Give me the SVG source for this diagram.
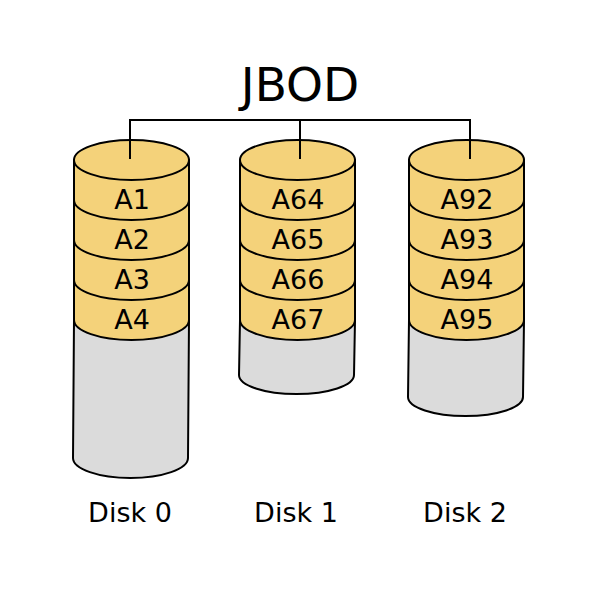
<svg xmlns="http://www.w3.org/2000/svg" width="600" height="600" viewBox="0 0 600 600">
<style>
.gray{fill:#dbdbdb;stroke:#000;stroke-width:2}
.yel{fill:#f4d27a;stroke:#000;stroke-width:2}
.arc{fill:none;stroke:#000;stroke-width:2}
.lbl{font-family:"DejaVu Sans",sans-serif;font-size:27px;text-anchor:middle;fill:#000}
.dlbl{font-family:"DejaVu Sans",sans-serif;font-size:27px;text-anchor:middle;fill:#000}
.title{font-family:"DejaVu Sans",sans-serif;font-size:47px;text-anchor:middle;fill:#000}
.conn{fill:none;stroke:#000;stroke-width:2}
</style>
<rect width="600" height="600" fill="#fff"/>
<g id="disk0">
<path class="gray" d="M74,320 L73,458 A57.5,20 0 0 0 188,458 L189,320 Z"/>
<path class="yel" d="M74,160 L74,320 A57.5,20 0 0 0 189,320 L189,160 Z"/>
<path class="arc" d="M74,200 A57.5,20 0 0 0 189,200 M74,240 A57.5,20 0 0 0 189,240 M74,280 A57.5,20 0 0 0 189,280"/>
<ellipse class="yel" cx="131.5" cy="160" rx="57.5" ry="20"/>
<text class="lbl" x="132" y="209">A1</text>
<text class="lbl" x="132" y="249">A2</text>
<text class="lbl" x="132" y="289">A3</text>
<text class="lbl" x="132" y="329">A4</text>
<text class="dlbl" x="130" y="522">Disk 0</text>
</g>
<g id="disk1">
<path class="gray" d="M240,320 L239,375 A57.5,19 0 0 0 354,375 L355,320 Z"/>
<path class="yel" d="M240,160 L240,320 A57.5,20 0 0 0 355,320 L355,160 Z"/>
<path class="arc" d="M240,200 A57.5,20 0 0 0 355,200 M240,240 A57.5,20 0 0 0 355,240 M240,280 A57.5,20 0 0 0 355,280"/>
<ellipse class="yel" cx="297.5" cy="160" rx="57.5" ry="20"/>
<text class="lbl" x="298" y="209">A64</text>
<text class="lbl" x="298" y="249">A65</text>
<text class="lbl" x="298" y="289">A66</text>
<text class="lbl" x="298" y="329">A67</text>
<text class="dlbl" x="296" y="522">Disk 1</text>
</g>
<g id="disk2">
<path class="gray" d="M409,320 L408,397 A57.5,19 0 0 0 523,397 L524,320 Z"/>
<path class="yel" d="M409,160 L409,320 A57.5,20 0 0 0 524,320 L524,160 Z"/>
<path class="arc" d="M409,200 A57.5,20 0 0 0 524,200 M409,240 A57.5,20 0 0 0 524,240 M409,280 A57.5,20 0 0 0 524,280"/>
<ellipse class="yel" cx="466.5" cy="160" rx="57.5" ry="20"/>
<text class="lbl" x="467" y="209">A92</text>
<text class="lbl" x="467" y="249">A93</text>
<text class="lbl" x="467" y="289">A94</text>
<text class="lbl" x="467" y="329">A95</text>
<text class="dlbl" x="465" y="522">Disk 2</text>
</g>
<g id="jbod">
<text class="title" x="300" y="101">JBOD</text>
</g>
<g id="connectors">
<path class="conn" d="M130,159 L130,120 L470,120 L470,159 M300,120 L300,159"/>
</g>
</svg>
